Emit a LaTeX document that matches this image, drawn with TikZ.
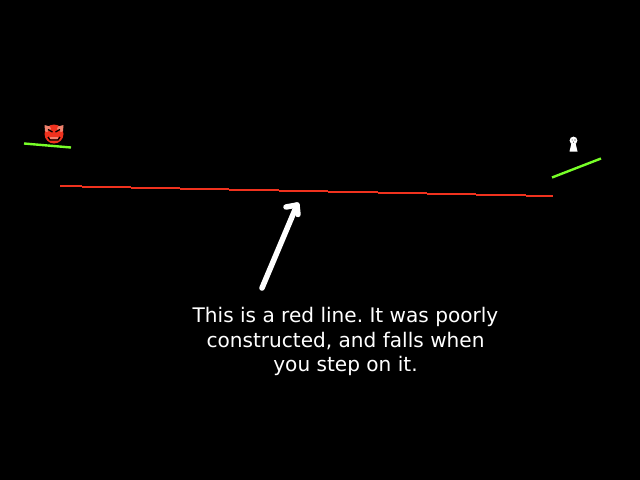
\documentclass[tikz,border=0pt]{standalone}
\usepackage{fontspec}
\setmainfont{DejaVu Sans}
\usepackage{tikz}

\definecolor{linered}{RGB}{240,50,30}
\definecolor{linegreen}{RGB}{120,255,40}
\definecolor{hornpink}{RGB}{240,130,110}

\begin{document}
\begin{tikzpicture}[x=0.025cm,y=-0.025cm]
    \def\W{640} % picture width
    \def\H{480} % picture height
    \tikzset{
        ledge/.style={linegreen,line width=1.7pt},
        caption/.style={white,align=center,font=\fontsize{14.28}{17.2}\selectfont\frenchspacing},
        pointer/.style={white,line width=3.9pt,line cap=round,line join=round}
    }

    \fill[black] (0,0) rectangle (\W,\H);
    \useasboundingbox (0,0) rectangle (\W,\H);

    % Green ledges
    \draw[ledge] (24,143.5) -- (71,147.5);
    \draw[ledge] (552,177.5) -- (601,158.5);

    % Red line
    \foreach \x/\xb/\y in {60/82/185,82/131/186,131/180/187,180/229/188,229/279/189,279/328/190,328/378/191,378/427/192,427/476/193,476/526/194,526/553/195} {
        \fill[linered] (\x,\y) rectangle (\xb,\y+2);
    }

    % Devil
    \fill[linered] (54,134) circle (9.5);
    \fill[hornpink] (44.5,125) -- (50,126.5) -- (51,129) -- (47,132) -- (45,131) -- cycle;
    \fill[hornpink] (63.5,125) -- (58,126.5) -- (57,129) -- (61,132) -- (63,131) -- cycle;
    \draw[black,line width=0.9pt] (48,129.5) -- (52.5,132) (60,129.5) -- (55.5,132);
    \draw[black,line width=0.9pt] (48,137) -- (50,140) -- (58,140) -- (60,137);
    \fill[hornpink] (50,136.5) rectangle (58,138.5);

    % Ghost
    \fill[white] (573.5,140.5) circle (3.9);
    \fill[white] (571.5,143) -- (575.5,143) -- (577.5,151.5) -- (569.5,151.5) -- cycle;
    \fill[black] (572.1,140) circle (0.6) (574.9,140) circle (0.6);
    \fill[black] (573.5,142.2) circle (0.5);

    % Arrow
    \coordinate (tail) at (262,288);
    \coordinate (tip) at (297,205);
    \draw[pointer] (tail) -- (tip);
    \draw[pointer] (286,207) -- (297,205) -- (298,214.5);

    \node[caption] (note) at (345.5,341.5) {This is a red line. It was poorly\\constructed, and falls when\\you step on it.};
\end{tikzpicture}
\end{document}
